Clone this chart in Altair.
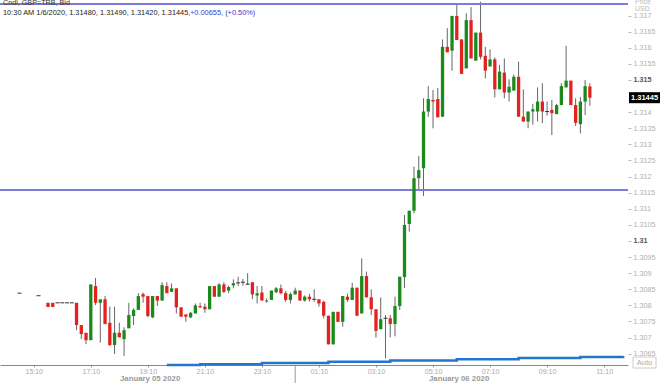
import altair as alt
import pandas as pd
import numpy as np

# ---- candle data (minutes since 2020-01-05 00:00, 10-minute candles) ----
times = [880, 920, 940, 950, 960, 970, 980, 990,
         1000, 1010, 1020, 1030, 1040, 1050, 1060, 1070, 1080, 1090,
         1100, 1110, 1120, 1130, 1140, 1150, 1160, 1170, 1180, 1190,
         1200, 1210, 1220, 1230, 1240, 1250, 1260, 1270, 1280, 1290,
         1300, 1310, 1320, 1330, 1340, 1350, 1360, 1370, 1380, 1390,
         1400, 1410, 1420, 1430, 1440, 1450, 1460, 1470, 1480, 1490,
         1500, 1510, 1520, 1530, 1540, 1550, 1560, 1570, 1580, 1590,
         1600, 1610, 1620, 1630, 1640, 1650, 1660, 1670, 1680, 1690,
         1700, 1710, 1720, 1730, 1740, 1750, 1760, 1770, 1780, 1790,
         1800, 1810, 1820, 1830, 1840, 1850, 1860, 1870, 1880, 1890,
         1900, 1910, 1920, 1930, 1940, 1950, 1960, 1970, 1980, 1990,
         2000, 2010, 2020, 2030, 2040, 2050, 2060, 2070, 2080]

opens = [1.30838, 1.30830, 1.30808, 1.30808, 1.30808, 1.30808, 1.30808, 1.30808,
         1.30808, 1.30739, 1.30715, 1.30692, 1.30860, 1.30808, 1.30819, 1.30746, 1.30677, 1.30715,
         1.30695, 1.30729, 1.30767, 1.30786, 1.30835, 1.30829, 1.30763, 1.30829, 1.30815, 1.30860,
         1.30842, 1.30853, 1.30794, 1.30772, 1.30763, 1.30775, 1.30798, 1.30796, 1.30788, 1.30860,
         1.30827, 1.30865, 1.30846, 1.30862, 1.30870, 1.30872, 1.30866, 1.30872, 1.30831, 1.30840,
         1.30812, 1.30817, 1.30841, 1.30853, 1.30838, 1.30817, 1.30834, 1.30846, 1.30815, 1.30827,
         1.30819, 1.30819, 1.30811, 1.30768, 1.30679, 1.30780, 1.30749, 1.30827, 1.30817, 1.30855,
         1.30775, 1.30891, 1.30825, 1.30788, 1.30726, 1.30760, 1.30760, 1.30742, 1.30798, 1.30888,
         1.31053, 1.31094, 1.31195, 1.31226, 1.31402, 1.31438, 1.31441, 1.31386, 1.31603, 1.31591,
         1.31699, 1.31626, 1.31536, 1.31686, 1.31560, 1.31647, 1.31575, 1.31542, 1.31564, 1.31471,
         1.31523, 1.31461, 1.31467, 1.31510, 1.31386, 1.31371, 1.31402, 1.31402, 1.31433, 1.31402,
         1.31407, 1.31394, 1.31422, 1.31477, 1.31498, 1.31422, 1.31363, 1.31433, 1.31480]

highs = [1.30838, 1.30830, 1.30808, 1.30808, 1.30808, 1.30808, 1.30808, 1.30808,
         1.30808, 1.30739, 1.30715, 1.30865, 1.30885, 1.30819, 1.30829, 1.30796, 1.30796, 1.30746,
         1.30732, 1.30808, 1.30791, 1.30838, 1.30840, 1.30829, 1.30829, 1.30829, 1.30872, 1.30872,
         1.30868, 1.30853, 1.30794, 1.30772, 1.30780, 1.30806, 1.30808, 1.30806, 1.30860, 1.30860,
         1.30869, 1.30872, 1.30861, 1.30881, 1.30889, 1.30882, 1.30900, 1.30872, 1.30860, 1.30860,
         1.30822, 1.30846, 1.30857, 1.30865, 1.30845, 1.30840, 1.30855, 1.30846, 1.30831, 1.30836,
         1.30850, 1.30819, 1.30815, 1.30768, 1.30780, 1.30780, 1.30829, 1.30836, 1.30870, 1.30855,
         1.30946, 1.30905, 1.30850, 1.30788, 1.30825, 1.30770, 1.30770, 1.30827, 1.30889, 1.31081,
         1.31094, 1.31231, 1.31264, 1.31443, 1.31481, 1.31469, 1.31475, 1.31626, 1.31661, 1.31699,
         1.31733, 1.31626, 1.31707, 1.31726, 1.31647, 1.31743, 1.31603, 1.31595, 1.31570, 1.31547,
         1.31567, 1.31502, 1.31517, 1.31557, 1.31471, 1.31402, 1.31426, 1.31477, 1.31490, 1.31433,
         1.31438, 1.31426, 1.31490, 1.31606, 1.31498, 1.31443, 1.31447, 1.31500, 1.31490]

lows = [1.30838, 1.30830, 1.30795, 1.30795, 1.30808, 1.30808, 1.30808, 1.30808,
        1.30723, 1.30696, 1.30680, 1.30692, 1.30801, 1.30684, 1.30742, 1.30674, 1.30649, 1.30701,
        1.30643, 1.30729, 1.30739, 1.30786, 1.30808, 1.30763, 1.30760, 1.30798, 1.30815, 1.30838,
        1.30842, 1.30775, 1.30765, 1.30749, 1.30760, 1.30775, 1.30791, 1.30777, 1.30788, 1.30827,
        1.30827, 1.30838, 1.30838, 1.30853, 1.30860, 1.30861, 1.30863, 1.30819, 1.30806, 1.30815,
        1.30808, 1.30817, 1.30838, 1.30834, 1.30811, 1.30806, 1.30834, 1.30815, 1.30812, 1.30812,
        1.30811, 1.30796, 1.30760, 1.30679, 1.30679, 1.30749, 1.30734, 1.30811, 1.30817, 1.30768,
        1.30775, 1.30825, 1.30770, 1.30700, 1.30726, 1.30636, 1.30701, 1.30704, 1.30786, 1.30854,
        1.31029, 1.31086, 1.31161, 1.31140, 1.31386, 1.31350, 1.31384, 1.31386, 1.31586, 1.31529,
        1.31624, 1.31519, 1.31536, 1.31567, 1.31560, 1.31564, 1.31505, 1.31542, 1.31446, 1.31471,
        1.31443, 1.31433, 1.31467, 1.31386, 1.31371, 1.31350, 1.31361, 1.31371, 1.31366, 1.31389,
        1.31329, 1.31394, 1.31422, 1.31477, 1.31422, 1.31357, 1.31334, 1.31391, 1.31420]

closes = [1.30838, 1.30830, 1.30795, 1.30795, 1.30808, 1.30808, 1.30808, 1.30808,
          1.30739, 1.30711, 1.30692, 1.30865, 1.30808, 1.30819, 1.30742, 1.30677, 1.30715, 1.30701,
          1.30723, 1.30770, 1.30786, 1.30829, 1.30827, 1.30767, 1.30829, 1.30815, 1.30863, 1.30838,
          1.30853, 1.30794, 1.30765, 1.30765, 1.30777, 1.30800, 1.30794, 1.30788, 1.30860, 1.30827,
          1.30865, 1.30842, 1.30857, 1.30869, 1.30870, 1.30872, 1.30866, 1.30834, 1.30838, 1.30815,
          1.30815, 1.30846, 1.30853, 1.30838, 1.30817, 1.30835, 1.30846, 1.30815, 1.30827, 1.30819,
          1.30819, 1.30806, 1.30768, 1.30679, 1.30780, 1.30749, 1.30829, 1.30817, 1.30855, 1.30768,
          1.30891, 1.30825, 1.30788, 1.30721, 1.30757, 1.30760, 1.30742, 1.30798, 1.30889, 1.31050,
          1.31094, 1.31195, 1.31220, 1.31402, 1.31441, 1.31433, 1.31384, 1.31603, 1.31586, 1.31699,
          1.31624, 1.31519, 1.31686, 1.31567, 1.31647, 1.31572, 1.31529, 1.31564, 1.31471, 1.31526,
          1.31461, 1.31479, 1.31510, 1.31386, 1.31371, 1.31402, 1.31409, 1.31433, 1.31402, 1.31402,
          1.31397, 1.31422, 1.31481, 1.31498, 1.31422, 1.31367, 1.31433, 1.31481, 1.31445]

# horizontal reference levels
level_lines = [1.31736, 1.31158]

# slow-rising indicator line at the bottom
band_times = [1190, 1260, 1390, 1530, 1660, 1800, 1930, 2060, 2150]
band_values = [1.30615, 1.30617, 1.30621, 1.30625, 1.30629, 1.30633, 1.30637, 1.30640, 1.30643]

# axes
x_domain = [849.5, 2149.7]
y_domain = [1.306149, 1.317484]
x_tick_values = [910, 1030, 1150, 1270, 1390, 1510, 1630, 1750, 1870, 1990, 2110]
x_tick_labels = ["15:10", "17:10", "19:10", "21:10", "23:10", "01:10",
                 "03:10", "05:10", "07:10", "09:10", "11:10"]
y_tick_values = [1.3065, 1.307, 1.3075, 1.308, 1.3085, 1.309, 1.3095, 1.31, 1.3105,
                 1.311, 1.3115, 1.312, 1.3125, 1.313, 1.3135, 1.314, 1.315,
                 1.3155, 1.316, 1.3165, 1.317]
y_bold_values = [1.31, 1.315]
day_labels = ["January 05 2020", "January 06 2020"]
day_boundary = 1460

series_name = "Cndl, GBP=TRB, Bid"
last_time = "10:30 AM 1/6/2020"
change = 0.00655
change_pct = 0.50

FONT = "Liberation Sans"
GREEN = "#1b8a1b"
RED = "#e3211f"

df = pd.DataFrame({"t": times, "open": opens, "high": highs, "low": lows, "close": closes})
df["dir"] = np.where(df.close > df.open, "up", np.where(df.close < df.open, "down", "flat"))

xs = alt.Scale(domain=x_domain, nice=False, zero=False)
ys = alt.Scale(domain=y_domain, nice=False, zero=False)

label_arr = "[" + ",".join("'%s'" % s for s in x_tick_labels) + "]"
val_arr = "[" + ",".join(str(v) for v in x_tick_values) + "]"
x_axis = alt.Axis(values=x_tick_values, labelExpr=f"{label_arr}[indexof({val_arr}, datum.value)]",
                  title=None, grid=False, labelColor="#aaaaaa", labelFontSize=7, labelFont=FONT,
                  tickSize=2, tickColor="#999999", domainColor="#888888", labelPadding=0)

bold_test = " || ".join(f"abs(datum.value - {v}) < 1e-7" for v in y_bold_values)
y_axis = alt.Axis(orient="right", values=y_tick_values, labelExpr="format(datum.value, '.4~f')",
                  title=None, grid=False, domain=False, tickSize=3, tickColor="#bbbbbb",
                  labelFontSize=7.2, labelFont=FONT, labelPadding=2,
                  labelColor={"condition": {"test": bold_test, "value": "#555555"}, "value": "#b0b0b0"},
                  labelFontWeight={"condition": {"test": bold_test, "value": "bold"}, "value": "normal"})


def X(field):
    return alt.X(field, scale=xs, axis=x_axis)


def Y(field):
    return alt.Y(field, scale=ys, axis=y_axis)


wicks = alt.Chart(df).mark_rule(color="#666666", strokeWidth=1).encode(
    x=X("t:Q"), y=Y("low:Q"), y2="high:Q")

levels = alt.Chart(pd.DataFrame({"y": level_lines})).mark_rule(
    color="#7c7cd8", strokeWidth=2).encode(y=Y("y:Q"))

bodies = alt.Chart(df).transform_filter("datum.dir != 'flat'").mark_bar(size=3.3).encode(
    x=X("t:Q"), y=Y("open:Q"), y2="close:Q",
    color=alt.Color("dir:N", scale=alt.Scale(domain=["up", "down"], range=[GREEN, RED]), legend=None))

flats = alt.Chart(df).transform_filter("datum.dir == 'flat'").mark_rule(
    color="#333333", strokeWidth=1, xOffset=-2, x2Offset=2).encode(
    x=X("t:Q"), x2="t:Q", y=Y("open:Q"))

band_df = pd.DataFrame({"t": band_times, "v": band_values})
band = alt.Chart(band_df).mark_line(color="#2277cc", strokeWidth=2.5, interpolate="step-after").encode(
    x=X("t:Q"), y=Y("v:Q"))

last = df.tail(1)
box = alt.Chart(last).mark_rect(color="black", yOffset=-5.5, y2Offset=5.5).encode(
    x=alt.value(629), x2=alt.value(660), y=Y("close:Q"), y2="close:Q")
box_text = alt.Chart(last).mark_text(color="white", fontWeight="bold", fontSize=7.5, font=FONT,
                                     align="left", baseline="middle").encode(
    x=alt.value(631), y=Y("close:Q"), text=alt.Text("close:Q", format=".5f"))

one = pd.DataFrame({"a": [0]})
r = last.iloc[0]
line2a = f"{last_time}, {r.open:.5f}, {r.high:.5f}, {r.low:.5f}, {r.close:.5f}, "
line2b = f"+{change:.5f}, (+{change_pct:.2f}%)"

hdr1 = alt.Chart(one).mark_text(fontSize=7.2, font=FONT, color="#333333", align="left",
                                baseline="middle").encode(x=alt.value(3), y=alt.value(3),
                                                          text=alt.value(series_name))
hdr2 = alt.Chart(one).mark_text(fontSize=7.4, font=FONT, color="#222222", align="left",
                                baseline="middle").encode(x=alt.value(3), y=alt.value(13),
                                                          text=alt.value(line2a))
hdr3 = alt.Chart(one).mark_text(fontSize=7.4, font=FONT, color="#3a3acc", align="left",
                                baseline="middle").encode(x=alt.value(190), y=alt.value(13),
                                                          text=alt.value(line2b))
price_t = alt.Chart(one).mark_text(fontSize=7, font=FONT, color="#bbbbbb", align="left",
                                   baseline="middle").encode(x=alt.value(635), y=alt.value(1.5),
                                                             text=alt.value("Price"))
usd_t = alt.Chart(one).mark_text(fontSize=7, font=FONT, color="#bbbbbb", align="left",
                                 baseline="middle").encode(x=alt.value(635), y=alt.value(9),
                                                           text=alt.value("USD"))

day_df = pd.DataFrame({"t": [(x_domain[0] + day_boundary) / 2, (day_boundary + x_domain[1]) / 2],
                       "label": day_labels})
days = alt.Chart(day_df).mark_text(fontSize=7.8, font=FONT, fontWeight="bold", color="#999999",
                                   baseline="middle").encode(
    x=X("t:Q"), y=alt.value(379), text="label:N")
sep = alt.Chart(pd.DataFrame({"t": [day_boundary]})).mark_rule(color="#999999").encode(
    x=X("t:Q"), y=alt.value(366), y2=alt.value(383))

auto_box = alt.Chart(one).mark_rect(fill="white", stroke="#cccccc", strokeWidth=1).encode(
    x=alt.value(633), x2=alt.value(656), y=alt.value(357), y2=alt.value(368))
auto_t = alt.Chart(one).mark_text(fontSize=7.5, font=FONT, color="#aaaaaa", baseline="middle").encode(
    x=alt.value(644.5), y=alt.value(362.5), text=alt.value("Auto"))

chart = alt.layer(wicks, levels, band, bodies, flats, box, box_text, hdr1, hdr2, hdr3,
                  price_t, usd_t, days, sep, auto_box, auto_t).properties(
    width=628, height=365,
    autosize=alt.AutoSizeParams(type="none"),
    padding={"left": 0, "top": 0, "right": 32, "bottom": 18},
    background="white",
).configure_view(stroke=None)

chart.save("out.html", embed_options={"renderer": "svg", "actions": False})
